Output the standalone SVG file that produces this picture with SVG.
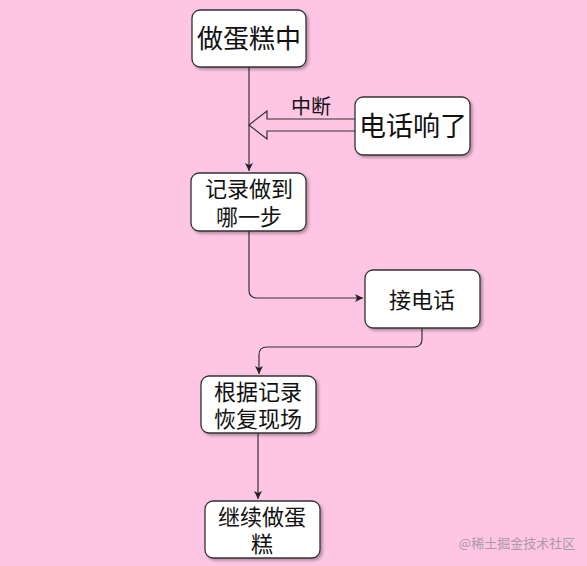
<svg xmlns="http://www.w3.org/2000/svg" width="587" height="566" viewBox="0 0 587 566">
<defs>
<filter id="sh" x="-10%" y="-10%" width="130%" height="130%">
<feDropShadow dx="2" dy="2" stdDeviation="1.5" flood-color="#000" flood-opacity="0.3"/>
</filter>
<marker id="ar" markerWidth="10" markerHeight="10" refX="9" refY="5" orient="auto" markerUnits="userSpaceOnUse">
<path d="M1,1 L9,5 L1,9 L3,5 Z" fill="#222"/>
</marker>
</defs>
<style>
.n rect{fill:#fff;stroke:#333;stroke-width:1.3;filter:url(#sh)}
.t{font-family:"Noto Sans CJK SC","Noto Sans",sans-serif;fill:#111;text-anchor:middle}
.c path{fill:none;stroke:#333;stroke-width:1.2}
</style>
<rect width="587" height="566" fill="#fec6e4"/>
<g class="c" id="connectors">
<path d="M249,67 V171" marker-end="url(#ar)"/>
<path d="M249,231 V290 Q249,298 257,298 H363" marker-end="url(#ar)"/>
<path d="M422,328 V339 Q422,347 414,347 H267 Q259,347 259,355 V374" marker-end="url(#ar)"/>
<path d="M258,433 V499" marker-end="url(#ar)"/>
<path d="M355,119 H267 V111 L249,125 L267,139 V131 H355" style="fill:#fec6e4;stroke:#333;stroke-width:1.2"/>
<text class="t" x="311" y="114" font-size="20">中断</text>
</g>
<g class="n" id="n1"><rect x="192" y="10" width="114" height="57" rx="8"/><text class="t" x="249" y="48" font-size="26">做蛋糕中</text></g>
<g class="n" id="n2"><rect x="355" y="97" width="115" height="58" rx="8"/><text class="t" x="413" y="136" font-size="27">电话响了</text></g>
<g class="n" id="n3"><rect x="191" y="173" width="115" height="58" rx="8"/><text class="t" x="249" y="197" font-size="22">记录做到</text><text class="t" x="249" y="225" font-size="22">哪一步</text></g>
<g class="n" id="n4"><rect x="365" y="270" width="115" height="58" rx="8"/><text class="t" x="422" y="308" font-size="22">接电话</text></g>
<g class="n" id="n5"><rect x="201" y="376" width="115" height="57" rx="8"/><text class="t" x="258" y="400" font-size="22">根据记录</text><text class="t" x="258" y="427" font-size="22">恢复现场</text></g>
<g class="n" id="n6"><rect x="205" y="501" width="115" height="57" rx="8"/><text class="t" x="262" y="525" font-size="22">继续做蛋</text><text class="t" x="262" y="552" font-size="22">糕</text></g>
<text x="517" y="548" font-size="13" fill="#a99aa3" text-anchor="middle" font-family="Noto Sans CJK SC,sans-serif">@稀土掘金技术社区</text>
</svg>
